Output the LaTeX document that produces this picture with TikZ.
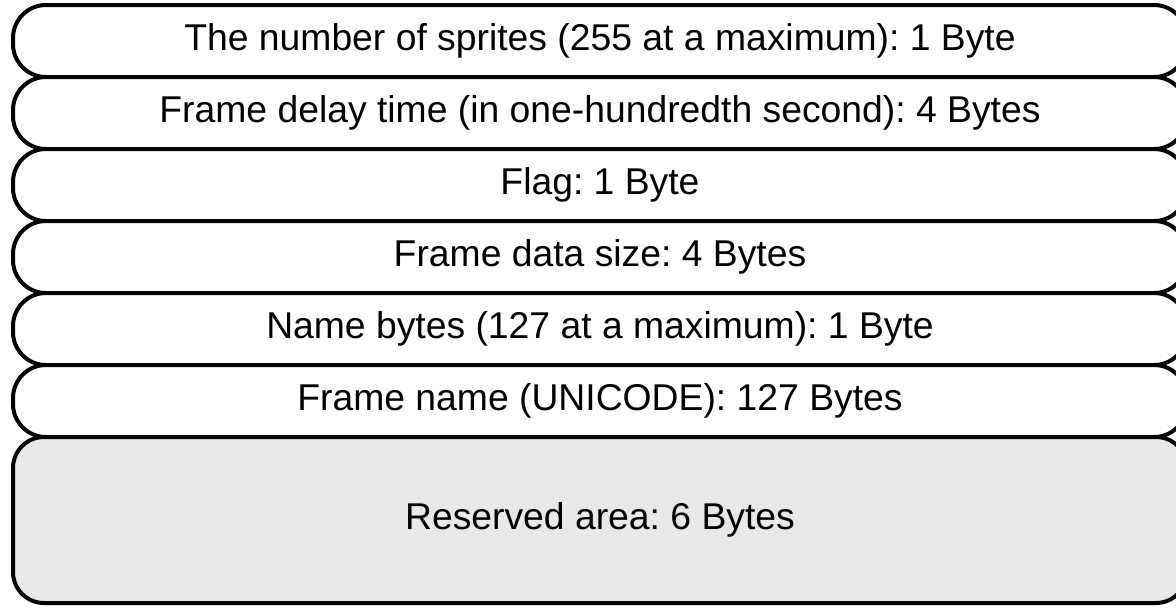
\documentclass[tikz,border=0pt]{standalone}
\usepackage{fontspec}
\setmainfont{Liberation Sans}
\frenchspacing
\definecolor{resgray}{RGB}{232,232,232}
\begin{document}
\begin{tikzpicture}[x=1pt,y=-1pt,
  field/.style={draw=black, line width=4pt, fill=white, rounded corners=33pt,
    minimum width=1174pt, minimum height=72pt, inner sep=0pt,
    font=\fontsize{37.3}{44}\selectfont},
  reserved/.style={field, fill=resgray, rounded corners=31pt, minimum height=166pt}]
\useasboundingbox (0,0) rectangle (1176,608);
\node[field] (b1) at (600,41) {The number of sprites (255 at a maximum): 1 Byte};
\node[field] (b2) at (600,113) {Frame delay time (in one-hundredth second): 4 Bytes};
\node[field] (b3) at (600,185) {Flag: 1 Byte};
\node[field] (b4) at (600,257) {Frame data size: 4 Bytes};
\node[field] (b5) at (600,329) {Name bytes (127 at a maximum): 1 Byte};
\node[field] (b6) at (600,401) {Frame name (UNICODE): 127 Bytes};
\node[reserved] (b7) at (600,520) {Reserved area: 6 Bytes};
\end{tikzpicture}
\end{document}
